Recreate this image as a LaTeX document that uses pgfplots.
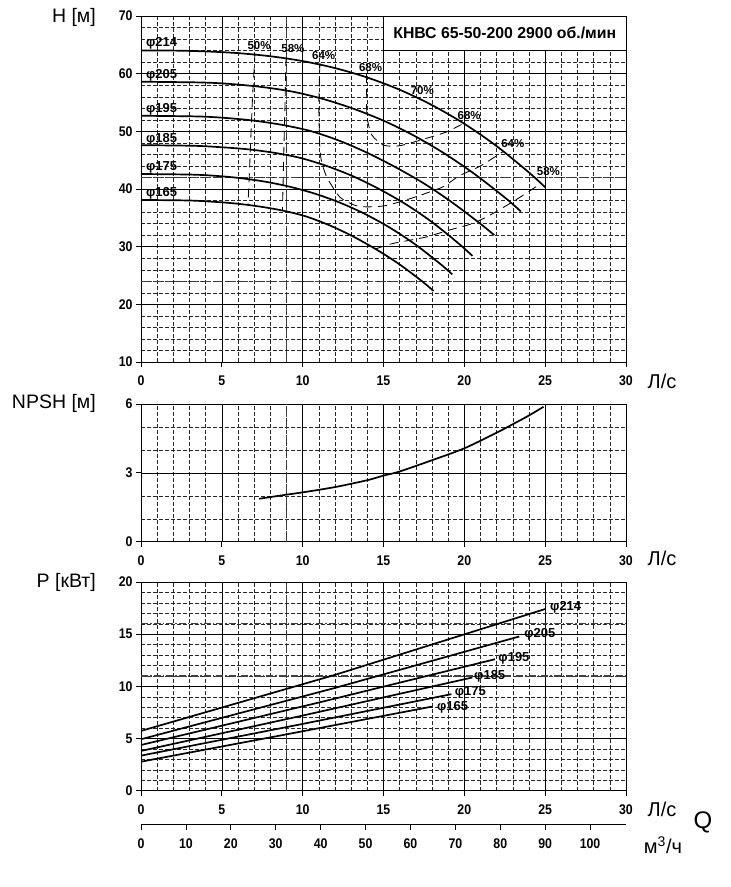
\documentclass[border=0pt]{standalone}
\usepackage{fontspec}
\setmainfont{Liberation Sans}
\newfontfamily\tickfont[FakeStretch=0.88]{Liberation Sans}
\usepackage{pgfplots}
\pgfplotsset{compat=1.18}
\newcommand\fs[1]{\fontsize{#1}{#1}\selectfont}
\begin{document}
\begin{tikzpicture}
\useasboundingbox (0pt,0pt) rectangle (731pt,887pt);
\pgfplotsset{
 chartbase/.style={
  scale only axis, width=485pt, xmin=0, xmax=30, xtick={0,5,...,30},
  minor x tick num=4, grid=both,
  major grid style={black, line width=0.6pt},
  minor grid style={black!85, line width=0.45pt, dash pattern=on 4pt off 2pt},
  axis line style={black, line width=0.8pt},
  tick align=outside, major tick length=5pt, minor tick length=0pt,
  tick pos=left,
  major tick style={black, line width=0.8pt},
  ticklabel style={font=\tickfont\fs{14}\bfseries},
  xticklabel style={yshift=-5.5pt},
  /pgf/number format/assume math mode=true,
  clip=false,
 },
 special/.style={line width=1.5pt, black!75, dash pattern=on 7pt off 2pt on 1.5pt off 2pt},
 curve/.style={line width=1.7pt, black, smooth, tension=0.5},
 eff/.style={line width=0.85pt, black, dash pattern=on 9pt off 6pt},
 pwr/.style={line width=1.7pt, black},
}
% ---------------- H-Q ----------------
\begin{axis}[chartbase, at={(141pt,525pt)}, anchor=south west, height=346pt,
  ymin=10, ymax=70, ytick={10,20,...,70}, minor y tick num=4]
\addplot[special] coordinates {(9,10) (9,70)};
\addplot[special] coordinates {(0,42) (30,42)};
\addplot[special] coordinates {(0,24) (30,24)};
% efficiency lines
\addplot[eff] coordinates {(7.05,63.5) (6.9,56) (6.78,48) (6.68,41) (6.62,37.3)};
\addplot[eff] coordinates {(8.97,62.9) (8.92,56) (8.83,46) (8.75,36.2)};
\addplot[eff, smooth, tension=0.4] coordinates {(11.07,61.9) (11.0,55) (11.05,48) (11.15,45) (11.5,42) (12.3,38.6) (13.2,37.2) (13.96,36.9) (15.1,37.1) (16.4,38.1) (17.67,39.3) (18.7,40.4) (19.7,42.3) (21.0,44.0) (22.4,46.5)};
\addplot[eff, smooth, tension=0.4] coordinates {(13.95,59.9) (13.96,56) (13.98,52.5) (14.27,49.4) (15.0,47.6) (16.0,47.5) (17.67,48.8) (18.9,49.9) (19.9,51.3)};
\addplot[eff, smooth, tension=0.4] coordinates {(14.5,29.6) (15.5,30.5) (16.6,31.1) (17.67,31.7) (19.1,32.9) (20.55,34.05) (21.8,35.8) (23.0,37.8) (23.85,39.3) (24.7,40.9)};
% H-Q curves
\addplot[curve] coordinates {(0,64) (2,64.0) (4,63.86) (6,63.56) (8,63.02) (10,62.18) (12,60.97) (14,59.33) (16,57.21) (18,54.55) (20,51.31) (22,47.43) (24,42.86) (25,40.3)};
\addplot[curve] coordinates {(0,58.6) (3.76,58.47) (5.64,58.19) (7.52,57.67) (9.4,56.87) (11.28,55.6) (13.16,53.9) (15.04,51.8) (16.92,49.2) (18.8,46.1) (20.68,42.5) (22.56,38.4) (23.5,36.1)};
\addplot[curve] coordinates {(0,52.7) (3.5,52.58) (5.24,52.32) (6.99,51.85) (8.74,51.11) (10.49,50.05) (12.24,48.4) (13.98,46.3) (15.73,43.8) (17.48,41.0) (19.23,37.7) (20.98,34.0) (21.85,32.0)};
\addplot[curve] coordinates {(0,47.6) (3.28,47.49) (4.92,47.25) (6.56,46.9) (8.2,46.3) (9.84,45.4) (11.48,44.0) (13.12,42.2) (14.76,39.95) (16.4,37.32) (18.04,34.18) (19.68,30.47) (20.5,28.4)};
\addplot[curve] coordinates {(0,42.6) (3.08,42.5) (4.62,42.28) (6.16,41.88) (7.7,41.26) (9.24,40.37) (10.78,39.17) (12.32,37.61) (13.86,35.66) (15.4,33.28) (16.94,30.44) (18.48,27.08) (19.25,25.2)};
\addplot[curve] coordinates {(0,38.1) (2.9,38.01) (4.34,37.81) (5.79,37.5) (7.24,37.0) (8.69,36.3) (10.14,35.3) (11.58,33.8) (13.03,31.9) (14.48,29.64) (15.93,27.05) (17.38,24.01) (18.1,22.3)};
% labels
\begin{scope}[every node/.style={font=\fs{13}\bfseries, inner sep=0pt}]
\node[anchor=west] at (axis cs:0.3,65.3) {φ214};
\node[anchor=west] at (axis cs:0.3,59.8) {φ205};
\node[anchor=west] at (axis cs:0.3,53.9) {φ195};
\node[anchor=west] at (axis cs:0.3,48.7) {φ185};
\node[anchor=west] at (axis cs:0.3,43.8) {φ175};
\node[anchor=west] at (axis cs:0.3,39.3) {φ165};
\end{scope}
\begin{scope}[every node/.style={font=\fs{11.5}\bfseries, inner sep=0pt}]
\node at (axis cs:7.3,64.8) {50\%};
\node at (axis cs:9.4,64.3) {58\%};
\node at (axis cs:11.3,63.2) {64\%};
\node at (axis cs:14.2,61.0) {68\%};
\node at (axis cs:17.4,57.0) {70\%};
\node at (axis cs:20.3,52.8) {68\%};
\node at (axis cs:23.0,47.8) {64\%};
\node at (axis cs:25.2,43.0) {58\%};
\end{scope}
\draw[fill=white, line width=0.8pt] (axis cs:15,64) rectangle (axis cs:30,70);
\node[font=\fs{15.8}\bfseries] at (axis cs:22.5,67) {КНВС 65-50-200 2900 об./мин};
\end{axis}
% ---------------- NPSH ----------------
\begin{axis}[chartbase, at={(141pt,345.3pt)}, anchor=south west, height=137.7pt,
  ymin=0, ymax=6, ytick={0,3,6}, minor y tick num=2]
\addplot[special] coordinates {(9,0) (9,6)};
\addplot[curve] coordinates {(7.3,1.87) (9,2.05) (10,2.15) (12,2.38) (14,2.68) (15,2.88) (16,3.06) (18,3.55) (20,4.07) (22,4.75) (23,5.12) (24,5.5) (24.9,5.88)};
\end{axis}
% ---------------- P ----------------
\begin{axis}[chartbase, at={(141pt,96.3pt)}, anchor=south west, height=208.7pt,
  ymin=0, ymax=20, ytick={0,5,...,20}, minor y tick num=4]
\addplot[special] coordinates {(9,0) (9,20)};
\addplot[special] coordinates {(0,16) (30,16)};
\addplot[special] coordinates {(0,11) (30,11)};
\addplot[pwr] coordinates {(0,5.73) (12,11.1) (25,17.41)};
\addplot[pwr] coordinates {(0,4.93) (12,9.85) (23.4,14.78)};
\addplot[pwr] coordinates {(0,4.38) (11,8.45) (21.9,12.6)};
\addplot[pwr] coordinates {(0,3.81) (10,7.2) (20.5,10.85)};
\addplot[pwr] coordinates {(0,3.36) (10,6.4) (19.2,9.25)};
\addplot[pwr] coordinates {(0,2.78) (9,5.4) (18.0,8.06)};
\begin{scope}[every node/.style={font=\fs{13}\bfseries, inner sep=0pt, anchor=west}]
\node at (axis cs:25.3,17.6) {φ214};
\node at (axis cs:23.7,15.0) {φ205};
\node at (axis cs:22.1,12.7) {φ195};
\node at (axis cs:20.6,10.95) {φ185};
\node at (axis cs:19.4,9.4) {φ175};
\node at (axis cs:18.3,8.0) {φ165};
\end{scope}
\end{axis}
% ---------------- m3/h axis ----------------
\begin{axis}[scale only axis, at={(141pt,62.7pt)}, anchor=south west, width=485pt, height=1pt,
  xmin=0, xmax=108, ymin=0, ymax=1, hide y axis, axis x line*=bottom,
  axis line style={-, black, line width=0.8pt},
  xtick={0,10,...,100}, tick align=outside, major tick length=6pt,
  major tick style={black, line width=0.8pt},
  ticklabel style={font=\tickfont\fs{14}\bfseries},
  xticklabel style={yshift=-5pt},
  /pgf/number format/assume math mode=true]
\addplot[draw=none] coordinates {(0,0) (108,1)};
\end{axis}
% ---------------- texts ----------------
\node[anchor=east, font=\fs{19.5}, inner sep=0pt] at (96pt,870pt) {H [м]};
\node[anchor=east, font=\fs{19.5}, inner sep=0pt] at (96pt,483.6pt) {NPSH [м]};
\node[anchor=east, font=\fs{19.5}, inner sep=0pt] at (96pt,305pt) {P [кВт]};
\node[font=\fs{20}, inner sep=0pt] at (662pt,506pt) {Л/с};
\node[font=\fs{20}, inner sep=0pt] at (662pt,329pt) {Л/с};
\node[font=\fs{20}, inner sep=0pt] at (662pt,78pt) {Л/с};
\node[font=\fs{24}, inner sep=0pt] at (703pt,65pt) {Q};
\node[font=\fs{20}, inner sep=0pt] at (663pt,42pt) {м\textsuperscript{3}/ч};
\end{tikzpicture}
\end{document}
